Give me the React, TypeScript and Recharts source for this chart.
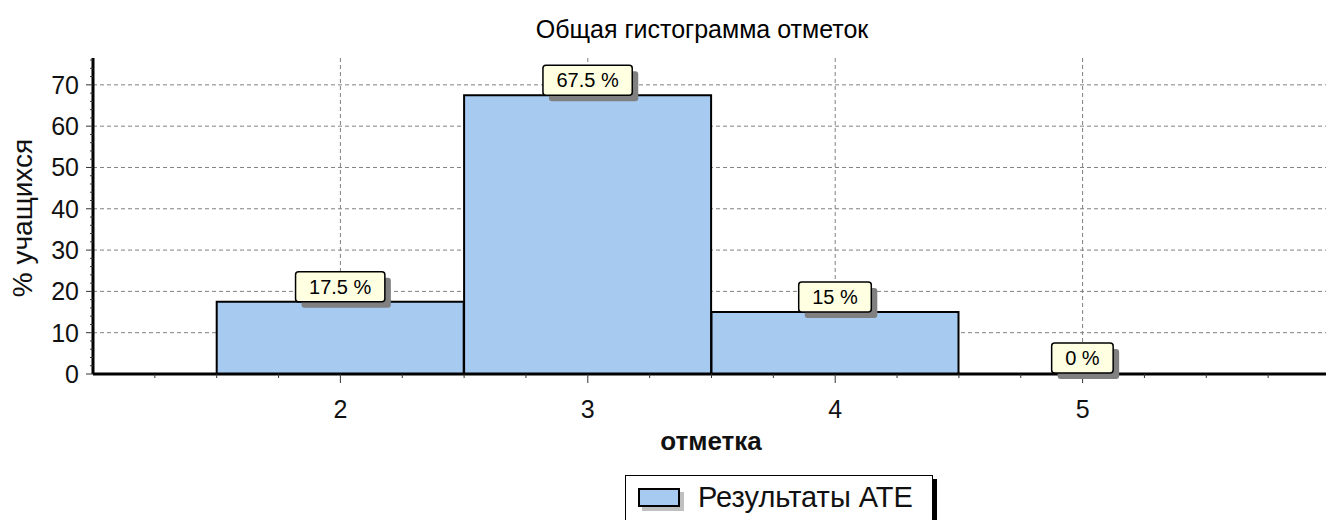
import { BarChart, Bar, XAxis, YAxis, CartesianGrid, LabelList, Cell } from 'recharts';

const MARKS = [2, 3, 4, 5];
const PERCENTS = [17.5, 67.5, 15, 0];
const LABELS = ['17.5 %', '67.5 %', '15 %', '0 %'];

const X_MAJOR = [2, 3, 4, 5];
const Y_MAJOR = [0, 10, 20, 30, 40, 50, 60, 70];

// minor tick marks (no labels)
const X_TICKS: number[] = [];
for (let v = 1.25; v < 6; v += 0.25) X_TICKS.push(v);
const Y_TICKS: number[] = [];
for (let v = 0; v <= 76; v += 2) Y_TICKS.push(v);

const data = MARKS.map((mark, i) => ({ mark, value: PERCENTS[i], label: LABELS[i] }));

const FONT = '"Liberation Sans", Arial, sans-serif';
const BAR_FILL = '#a6caf0';

const W = 1326;
const H = 520;
const PLOT_LEFT = 93;

// rough Arial widths at 20px
function textWidth(s: string) {
  let w = 0;
  for (const ch of s) {
    if (ch === '%') w += 17.8;
    else if (ch === '.' || ch === ' ') w += 5.6;
    else w += 11.1;
  }
  return w;
}

function XTick({ x, y, payload }: any) {
  const major = X_MAJOR.includes(payload.value);
  return (
    <g>
      <line x1={x} x2={x} y1={y} y2={y + (major ? 9 : 4)} stroke="#333" />
      {major && (
        <text x={x} y={y + 44} textAnchor="middle" fontSize={25} fontFamily={FONT} fill="#111">
          {payload.value}
        </text>
      )}
    </g>
  );
}

function YTick({ x, y, payload }: any) {
  const major = Y_MAJOR.includes(payload.value);
  return (
    <g>
      <line x1={x - (major ? 7 : 3)} x2={x} y1={y} y2={y} stroke="#333" />
      {major && (
        <text x={x - 14} y={y + 9} textAnchor="end" fontSize={25} fontFamily={FONT} fill="#111">
          {payload.value}
        </text>
      )}
    </g>
  );
}

function Callout({ x, y, width, value }: any) {
  const w = textWidth(String(value)) + 27;
  const h = 30;
  const cx = x + width / 2;
  const left = cx - w / 2;
  const top = y - h;
  return (
    <g>
      <rect x={left + 6} y={top + 6} width={w} height={h} rx={3} fill="#808080" />
      <rect x={left} y={top} width={w} height={h} rx={3} fill="#ffffe1" stroke="#000" strokeWidth={1.5} />
      <text x={cx} y={top + 22} textAnchor="middle" fontSize={20} fontFamily={FONT} fill="#000">
        {value}
      </text>
    </g>
  );
}

export default function App() {
  return (
    <div style={{ position: 'absolute', left: 0, top: 0, width: W, height: H, overflow: 'hidden', background: '#fff', fontFamily: FONT }}>
      <div style={{ position: 'absolute', left: 0, width: 1404, top: 14, textAlign: 'center', fontSize: 25, lineHeight: '30px', color: '#000' }}>
        Общая гистограмма отметок
      </div>
      <div style={{ position: 'absolute', left: 0, top: 0 }}>
        <BarChart
          width={W}
          height={H}
          data={data}
          barCategoryGap={0}
          barGap={0}
          margin={{ top: 58, right: -4, bottom: 86, left: 0 }}
        >
          <CartesianGrid
            stroke="#808080"
            strokeDasharray="4 3"
            verticalValues={X_MAJOR}
            horizontalValues={Y_MAJOR.filter((v) => v > 0)}
          />
          <XAxis
            dataKey="mark"
            type="number"
            domain={[1, 6]}
            ticks={X_TICKS}
            interval={0}
            height={60}
            tickSize={0}
            tickMargin={0}
            tickLine={false}
            tick={<XTick />}
            axisLine={{ stroke: '#000', strokeWidth: 3 }}
            allowDataOverflow
          />
          <YAxis
            type="number"
            domain={[0, 76.5]}
            ticks={Y_TICKS}
            interval={0}
            width={PLOT_LEFT}
            tickSize={0}
            tickMargin={0}
            tickLine={false}
            tick={<YTick />}
            axisLine={{ stroke: '#000', strokeWidth: 3 }}
            allowDataOverflow
          />
          <Bar
            dataKey="value"
            fill={BAR_FILL}
            stroke="#000"
            strokeWidth={2}
            minPointSize={1}
            isAnimationActive={false}
          >
            {data.map((d, i) => (
              <Cell
                key={`cell-${i}`}
                fill={d.value > 0 ? BAR_FILL : 'none'}
                stroke={d.value > 0 ? '#000' : 'none'}
              />
            ))}
            <LabelList dataKey="label" content={<Callout />} />
          </Bar>
          <text x={22} y={218} transform="rotate(-90 22 218)" textAnchor="middle" dominantBaseline="central" fontSize={28} fontFamily={FONT} fill="#111">
            % учащихся
          </text>
          <text x={711} y={450} textAnchor="middle" fontSize={26} fontWeight="bold" fontFamily={FONT} fill="#111">
            отметка
          </text>
        </BarChart>
      </div>
      <div
        style={{
          position: 'absolute',
          left: 625,
          top: 475,
          width: 306,
          height: 70,
          border: '1px solid #000',
          boxShadow: '4px 4px 0 #000',
          background: '#fff',
        }}
      >
        <div
          style={{
            position: 'absolute',
            left: 12,
            top: 12,
            width: 38,
            height: 15,
            border: '2px solid #000',
            background: BAR_FILL,
            boxShadow: '4px 4px 0 #c0c0c0',
          }}
        />
        <div style={{ position: 'absolute', left: 72, top: 5, fontSize: 29, lineHeight: '32px', color: '#111', whiteSpace: 'nowrap' }}>
          Результаты АТЕ
        </div>
      </div>
    </div>
  );
}
